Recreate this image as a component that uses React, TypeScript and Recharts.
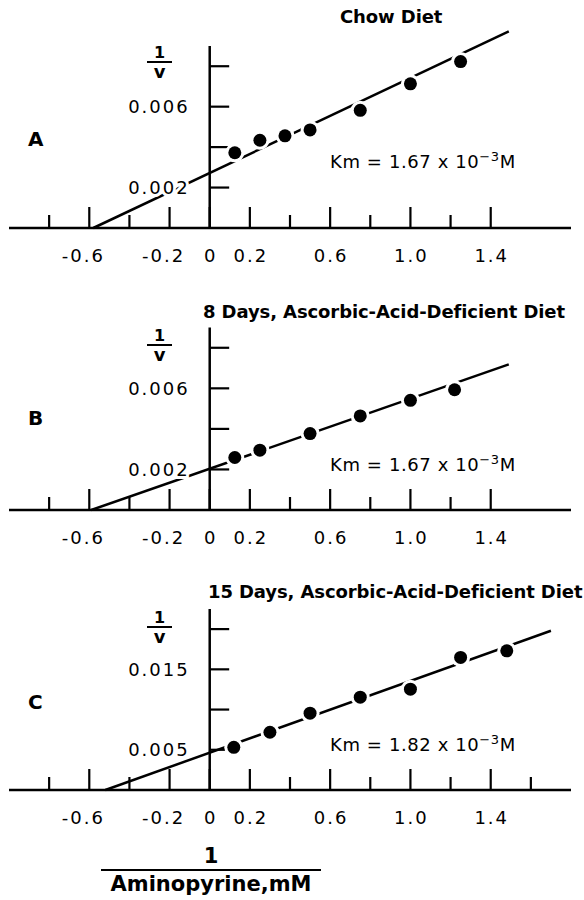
import React from "react";
import { ScatterChart, Scatter, XAxis, YAxis, ReferenceLine } from "recharts";

// 1/[aminopyrine] (mM^-1) and 1/v
const xA = [0.125, 0.25, 0.375, 0.5, 0.75, 1.0, 1.25];
const yA = [0.00372, 0.00434, 0.00456, 0.00485, 0.00582, 0.00713, 0.00823];
const xB = [0.125, 0.25, 0.5, 0.75, 1.0, 1.22];
const yB = [0.00259, 0.00295, 0.00377, 0.00464, 0.00541, 0.00593];
const xC = [0.12, 0.3, 0.5, 0.75, 1.0, 1.25, 1.48];
const yC = [0.00531, 0.00718, 0.00955, 0.01154, 0.01253, 0.01648, 0.0173];

// ends of the drawn regression lines
const fitAX = [-0.58, 1.49];
const fitAY = [0, 0.00972];
const fitBX = [-0.59, 1.49];
const fitBY = [0, 0.00718];
const fitCX = [-0.52, 1.7];
const fitCY = [0, 0.0198];

const xTicksAB = [-0.8, -0.6, -0.4, -0.2, 0, 0.2, 0.4, 0.6, 0.8, 1.0, 1.2, 1.4];
const xTicksC = [...xTicksAB, 1.6];
const xLabels = ["-0.6", "-0.2", "0", "0.2", "0.6", "1.0", "1.4"];

const yTicksAB = [0.002, 0.004, 0.006, 0.008];
const yLabelsAB = ["0.002", "0.006"];
const yTicksC = [0.005, 0.01, 0.015, 0.02];
const yLabelsC = ["0.005", "0.015"];

const font = "'DejaVu Sans', sans-serif";

const fmtX = (v: number) => {
  if (Math.abs(v) < 1e-9) return "0";
  return v.toFixed(1);
};

function XTick(props: any) {
  const { x, y, payload } = props;
  const label = fmtX(payload.value);
  const shown = xLabels.includes(label);
  const len = shown ? 21 : 13;
  return (
    <g>
      <line x1={x} x2={x} y1={y} y2={y - len} stroke="#000" strokeWidth={2.2} />
      {shown && (
        <text
          x={x}
          y={y + 27}
          dx={payload.value < 0 ? -6 : 1}
          textAnchor="middle"
          dominantBaseline="central"
          fontFamily={font}
          fontSize={18}
          style={{ letterSpacing: 2 }}
          fill="#000"
        >
          {label}
        </text>
      )}
    </g>
  );
}

function Dot(props: any) {
  const { cx, cy } = props;
  return (
    <g>
      <circle cx={cx} cy={cy} r={9.5} fill="#fff" />
      <circle cx={cx} cy={cy} r={6.5} fill="#000" />
    </g>
  );
}

type PanelProps = {
  top: number;
  marginTop: number;
  xs: number[];
  ys: number[];
  fitX: number[];
  fitY: number[];
  yMax: number;
  yTicks: number[];
  yLabels: string[];
  xTicks: number[];
};

function Panel({ top, marginTop, xs, ys, fitX, fitY, yMax, yTicks, yLabels, xTicks }: PanelProps) {
  const data = xs.map((x, i) => ({ x, y: ys[i] }));
  const height = 280;
  const bottomGap = top === 0 ? 22 : 20;
  return (
    <div style={{ position: "absolute", left: 0, top }}>
      <ScatterChart
        width={584}
        height={height}
        margin={{ top: marginTop, right: 13, bottom: bottomGap, left: 9 }}
      >
        <XAxis
          type="number"
          dataKey="x"
          domain={[-1, 1.8]}
          ticks={xTicks}
          interval={0}
          tickSize={0}
          tickMargin={0}
          tickLine={false}
          tick={<XTick />}
          axisLine={{ stroke: "#000", strokeWidth: 2.5 }}
          allowDataOverflow
          height={30}
        />
        <YAxis type="number" dataKey="y" domain={[0, yMax]} hide allowDataOverflow />
        <ReferenceLine
          segment={[
            { x: fitX[0], y: fitY[0] },
            { x: fitX[1], y: fitY[1] },
          ]}
          stroke="#000"
          strokeWidth={2.5}
          ifOverflow="visible"
        />
        <ReferenceLine x={0} stroke="#000" strokeWidth={2.5} />
        {yTicks.map((v) => {
          const lab = v.toFixed(3);
          const shown = yLabels.includes(lab);
          return (
            <ReferenceLine
              key={v}
              segment={[
                { x: 0, y: v },
                { x: 0.097, y: v },
              ]}
              stroke="#000"
              strokeWidth={2.2}
              ifOverflow="visible"
              label={
                shown
                  ? (p: any) => (
                      <text
                        x={p.viewBox.x - 20}
                        y={p.viewBox.y}
                        textAnchor="end"
                        dominantBaseline="central"
                        fontFamily={font}
                        fontSize={18}
                        style={{ letterSpacing: 2 }}
                        fill="#000"
                        stroke="#fff"
                        strokeWidth={6}
                        paintOrder="stroke"
                      >
                        {lab}
                      </text>
                    )
                  : undefined
              }
            />
          );
        })}
        <Scatter data={data} fill="#000" shape={<Dot />} isAnimationActive={false} />
      </ScatterChart>
    </div>
  );
}

const absText = (left: number, top: number, extra: React.CSSProperties = {}): React.CSSProperties => ({
  position: "absolute",
  left,
  top,
  whiteSpace: "nowrap",
  fontFamily: font,
  color: "#000",
  ...extra,
});

function OneOverV({ top }: { top: number }) {
  return (
    <div style={absText(147, top, { width: 25, textAlign: "center" })}>
      <div style={{ fontSize: 16, fontWeight: 700, lineHeight: "16px", borderBottom: "2px solid #000" }}>1</div>
      <div style={{ fontSize: 18, lineHeight: "18px", fontWeight: 700 }}>v</div>
    </div>
  );
}

function Km({ top, value }: { top: number; value: string }) {
  return (
    <div style={absText(330, top, { fontSize: 18, letterSpacing: 0.6 })}>
      Km = {value} x 10<sup style={{ fontSize: 13 }}>{"\u2212"}3</sup>M
    </div>
  );
}

export default function App() {
  const bold: React.CSSProperties = { fontWeight: 700, fontSize: 18, letterSpacing: -0.1 };
  return (
    <div style={{ position: "absolute", left: 0, top: 0, width: 584, height: 900, background: "#fff" }}>
      <Panel top={0} marginTop={46} xs={xA} ys={yA} fitX={fitAX} fitY={fitAY} yMax={0.009} yTicks={yTicksAB} yLabels={yLabelsAB} xTicks={xTicksAB} />
      <Panel top={280} marginTop={47.5} xs={xB} ys={yB} fitX={fitBX} fitY={fitBY} yMax={0.009} yTicks={yTicksAB} yLabels={yLabelsAB} xTicks={xTicksAB} />
      <Panel top={560} marginTop={49} xs={xC} ys={yC} fitX={fitCX} fitY={fitCY} yMax={0.0225} yTicks={yTicksC} yLabels={yLabelsC} xTicks={xTicksC} />

      <div style={absText(340, 6, bold)}>Chow Diet</div>
      <div style={absText(203, 301, bold)}>8 Days, Ascorbic-Acid-Deficient Diet</div>
      <div style={absText(208, 581, bold)}>15 Days, Ascorbic-Acid-Deficient Diet</div>

      <div style={absText(28, 127, { fontWeight: 700, fontSize: 20 })}>A</div>
      <div style={absText(28, 406, { fontWeight: 700, fontSize: 20 })}>B</div>
      <div style={absText(28, 690, { fontWeight: 700, fontSize: 20 })}>C</div>

      <OneOverV top={45} />
      <OneOverV top={328} />
      <OneOverV top={610} />

      <Km top={149} value="1.67" />
      <Km top={452} value="1.67" />
      <Km top={732} value="1.82" />

      <div style={absText(101, 844, { width: 220, textAlign: "center", fontWeight: 700, fontSize: 21 })}>
        <div style={{ lineHeight: "25px", borderBottom: "2.5px solid #000" }}>1</div>
        <div style={{ lineHeight: "27px" }}>Aminopyrine,mM</div>
      </div>
    </div>
  );
}
